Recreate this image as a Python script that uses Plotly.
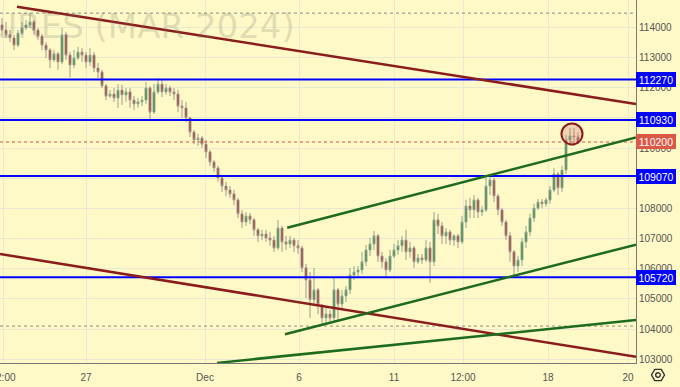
import plotly.graph_objects as go

# ---------------- data (price values) ----------------
opens = [
    114080, 113910, 113750, 113650, 113410, 113810, 113980, 114080, 114180, 113910,
    113710, 113410, 113250, 112920, 113120, 112850, 113750, 113080, 112750, 112980,
    113180, 113080, 112850, 113080, 112650, 112520, 112060, 111720, 111790, 111660,
    111920, 111760, 111860, 111590, 111460, 111530, 111590, 111990, 111190, 111860,
    112120, 111860, 111990, 111860, 111790, 111390, 111330, 111000, 110530, 110270,
    110330, 110130, 109870, 109540, 109340, 109010, 108740, 108610, 108480, 108280,
    107820, 107550, 107750, 107620, 107290, 107090, 107150, 107020, 106950, 106690,
    107350, 106890, 106820, 106950, 106760, 106690, 106030, 105630, 104970, 105300,
    104800, 104370, 104500, 104370, 105300, 104830, 105100, 105300, 105790, 105890,
    105960, 106230, 106620, 106820, 107090, 106420, 106230, 105960, 106420, 106620,
    106760, 106950, 106560, 106690, 106230, 106360, 106290, 106690, 106230, 107620,
    107420, 107090, 107220, 106950, 107090, 106890, 107550, 108080, 107950, 108280,
    107880, 107950, 108740, 108940, 108410, 107950, 107550, 107090, 106560, 106090,
    106290, 106890, 107220, 107680, 108010, 108210, 108150, 108280, 108610, 109140,
    108680, 109270, 110270, 110400, 110370,
]
closes = [
    113910, 113750, 113650, 113410, 113810, 113980, 114080, 114180, 113910, 113710,
    113410, 113250, 112920, 113120, 112850, 113750, 113080, 112750, 112980, 113180,
    113080, 112850, 113080, 112650, 112520, 112060, 111720, 111790, 111660, 111920,
    111760, 111860, 111590, 111460, 111530, 111590, 111990, 111190, 111860, 112120,
    111860, 111990, 111860, 111790, 111390, 111330, 111000, 110530, 110270, 110330,
    110130, 109870, 109540, 109340, 109010, 108740, 108610, 108480, 108280, 107820,
    107550, 107750, 107620, 107290, 107090, 107150, 107020, 106950, 106690, 107350,
    106890, 106820, 106950, 106760, 106690, 106030, 105630, 104970, 105300, 104800,
    104370, 104500, 104370, 105300, 104830, 105100, 105300, 105790, 105890, 105960,
    106230, 106620, 106820, 107090, 106420, 106230, 105960, 106420, 106620, 106760,
    106950, 106560, 106690, 106230, 106360, 106290, 106690, 106230, 107620, 107420,
    107090, 107220, 106950, 107090, 106890, 107550, 108080, 107950, 108280, 107880,
    107950, 108740, 108940, 108410, 107950, 107550, 107090, 106560, 106090, 106290,
    106890, 107220, 107680, 108010, 108210, 108150, 108280, 108610, 109140, 108680,
    109270, 110270, 110400, 110370, 110200,
]
highs = [
    114310, 114180, 113910, 113750, 113910, 114180, 114240, 114470, 114240, 113980,
    113780, 113510, 113310, 113250, 113180, 113980, 113850, 113180, 113250, 113350,
    113310, 113180, 113310, 113180, 112820, 112590, 112120, 111920, 111990, 112120,
    112090, 111990, 111990, 111720, 111660, 111720, 112190, 112060, 112120, 112320,
    112250, 112120, 112060, 111990, 111920, 111590, 111530, 111000, 110600, 110470,
    110400, 110270, 109940, 109600, 109410, 109070, 108880, 108740, 108610, 108350,
    107950, 107880, 107850, 107680, 107350, 107290, 107290, 107220, 107090, 107620,
    107420, 107090, 107090, 107020, 106950, 106760, 106160, 105890, 106030, 105360,
    104830, 104700, 104630, 105700, 105360, 105300, 105430, 106030, 106090, 106090,
    106560, 106790, 107020, 107250, 107150, 106560, 106360, 106620, 106820, 106950,
    107090, 107290, 106890, 106760, 106490, 106490, 106950, 106890, 107880, 107820,
    107550, 107350, 107290, 107150, 107150, 107750, 108280, 108350, 108440, 108350,
    108080, 109010, 109110, 109010, 108480, 108010, 107620, 107220, 106620, 106420,
    107020, 107420, 107820, 108150, 108310, 108310, 108350, 108740, 109340, 109210,
    109410, 110430, 110660, 110660, 110530,
]
lows = [
    113750, 113650, 113510, 113250, 113350, 113750, 113910, 113980, 113750, 113580,
    113250, 112980, 112650, 112850, 112590, 112780, 112920, 112350, 112650, 112920,
    112850, 112650, 112720, 112520, 112320, 111990, 111590, 111660, 111530, 111330,
    111430, 111530, 111330, 111260, 111330, 111390, 111460, 110930, 111130, 111790,
    111690, 111760, 111720, 111590, 111190, 111000, 110860, 110370, 110130, 110070,
    110000, 109670, 109410, 109210, 108880, 108540, 108410, 108350, 108110, 107680,
    107350, 107420, 107480, 107090, 106890, 106950, 106890, 106760, 106560, 106620,
    106560, 106620, 106690, 106560, 106490, 105890, 105030, 104370, 104830, 104500,
    104100, 104170, 104240, 104240, 104300, 104630, 104900, 105160, 105630, 105730,
    105830, 106090, 106420, 106620, 106230, 106030, 105700, 105890, 106360, 106460,
    106560, 106290, 106360, 106030, 106160, 106160, 106230, 105530, 106090, 107150,
    106820, 106820, 106790, 106760, 106690, 106820, 107350, 107680, 107680, 107680,
    107750, 107880, 108440, 108210, 107780, 107420, 106950, 106230, 105730, 105890,
    106090, 106690, 107090, 107550, 107950, 108010, 108050, 108150, 108540, 108440,
    108540, 109140, 110070, 110070, 110130,
]

# x-axis labels (positions in bar units)
tick_idx = [0.25, 21, 50.75, 74.25, 98, 115.25, 136.5, 156.5]
tick_labels = ["12:00", "27", "Dec", "6", "11", "12:00", "18", "20"]

# horizontal levels
level_prices = [112270, 110930, 109070, 105720]
last_price = 110200
extreme_prices = [114470, 104100]

# trend lines: start (bar, price) -> end (bar, price)
trend_x0 = [3.75, -0.5, 71.3, 70.75, 53.75]
trend_y0 = [114680, 106490, 107360, 103830, 102880]
trend_x1 = [158.5, 158.5, 158.5, 158.5, 158.5]
trend_y1 = [111460, 103080, 110350, 106800, 104300]
trend_colors = ["#8b1c1c", "#8b1c1c", "#1d6b1d", "#1d6b1d", "#1d6b1d"]

circle_idx = 142.5
circle_price = 110466

x_range = [-0.5, 158.5]
y_range = [102877, 114905]

# ---------------- figure ----------------
BG = "#fef9c6"
GRID = "#ebe8d2"
FONT = "Liberation Sans, Arial, sans-serif"

fig = go.Figure()

fig.add_trace(go.Candlestick(
    x=list(range(len(closes))), open=opens, high=highs, low=lows, close=closes,
    increasing=dict(line=dict(color="#8fa88f", width=1), fillcolor="#3f7f3f"),
    decreasing=dict(line=dict(color="#a9948c", width=1), fillcolor="#8e3328"),
    whiskerwidth=0, hoverinfo="skip",
))

# extreme dotted lines
for p in extreme_prices:
    fig.add_trace(go.Scatter(x=x_range, y=[p, p], mode="lines",
                             line=dict(color="#8a8a8a", width=1, dash="dot"),
                             hoverinfo="skip"))

# last price dotted line
fig.add_trace(go.Scatter(x=x_range, y=[last_price, last_price], mode="lines",
                         line=dict(color="#e0503f", width=1, dash="dot"),
                         hoverinfo="skip"))

# blue levels
for p in level_prices:
    fig.add_trace(go.Scatter(x=x_range, y=[p, p], mode="lines",
                             line=dict(color="#0000ff", width=2),
                             hoverinfo="skip"))

# trend lines
for xa, ya, xb, yb, c in zip(trend_x0, trend_y0, trend_x1, trend_y1, trend_colors):
    fig.add_trace(go.Scatter(x=[xa, xb], y=[ya, yb], mode="lines",
                             line=dict(color=c, width=2.5),
                             hoverinfo="skip"))

annotations = []
# watermark
annotations.append(dict(text="FUTURES (MAR 2024)", xref="paper", yref="paper",
                        x=297 / 636, y=1 - 26 / 363, xanchor="right", yanchor="middle",
                        showarrow=False,
                        font=dict(family="DejaVu Sans", size=34, color="rgba(120,120,110,0.22)")))
# price labels
for p in level_prices:
    annotations.append(dict(text=str(p), xref="paper", yref="y", x=1, y=p,
                            xanchor="left", yanchor="middle", showarrow=False,
                            bgcolor="#0000ff", borderpad=2, borderwidth=0,
                            width=36, height=11, align="center",
                            font=dict(family=FONT, size=10.5, color="white")))
annotations.append(dict(text=str(last_price), xref="paper", yref="y", x=1, y=last_price,
                        xanchor="left", yanchor="middle", showarrow=False,
                        bgcolor="#dc5846", borderpad=2, borderwidth=0,
                        width=36, height=11, align="center",
                        font=dict(family=FONT, size=10.5, color="white")))

shapes = []
# highlight circle
shapes.append(dict(type="circle", xref="x", yref="y",
                   xsizemode="pixel", ysizemode="pixel",
                   xanchor=circle_idx, yanchor=circle_price,
                   x0=-10.5, x1=10.5, y0=-10.5, y1=10.5,
                   line=dict(color="#8b1c1c", width=2),
                   fillcolor="rgba(205,120,120,0.30)"))
# settings hexagon icon (bottom-right corner)
shapes.append(dict(type="path", xref="paper", yref="paper",
                   xsizemode="pixel", ysizemode="pixel",
                   xanchor=658 / 636, yanchor=-12 / 363,
                   path="M -6.5 0 L -3.25 5.6 L 3.25 5.6 L 6.5 0 L 3.25 -5.6 L -3.25 -5.6 Z",
                   line=dict(color="#333333", width=1.4)))
shapes.append(dict(type="circle", xref="paper", yref="paper",
                   xsizemode="pixel", ysizemode="pixel",
                   xanchor=658 / 636, yanchor=-12 / 363,
                   x0=-2.3, x1=2.3, y0=-2.3, y1=2.3,
                   line=dict(color="#333333", width=1.4)))

fig.update_layout(
    width=680, height=387,
    margin=dict(l=0, r=44, t=0, b=24, autoexpand=False),
    paper_bgcolor=BG, plot_bgcolor=BG,
    showlegend=False,
    font=dict(family=FONT, size=10, color="#555555"),
    annotations=annotations, shapes=shapes,
    xaxis=dict(range=x_range, tickvals=tick_idx, ticktext=tick_labels,
               showgrid=True, gridcolor=GRID, gridwidth=1, zeroline=False,
               showline=True, linecolor="#7a7a7a", linewidth=1, ticks="",
               ticklabelstandoff=5, ticklabeloverflow="allow", automargin=False,
               tickfont=dict(size=10, color="#555555"),
               rangeslider=dict(visible=False), fixedrange=True),
    yaxis=dict(side="right", range=y_range, dtick=1000, tick0=0, tickformat="d",
               showgrid=True, gridcolor=GRID, gridwidth=1, zeroline=False,
               showline=True, linecolor="#7a7a7a", linewidth=1, ticks="",
               automargin=False,
               tickfont=dict(size=10, color="#555555"), fixedrange=True),
)

fig.write_html("out.html")
